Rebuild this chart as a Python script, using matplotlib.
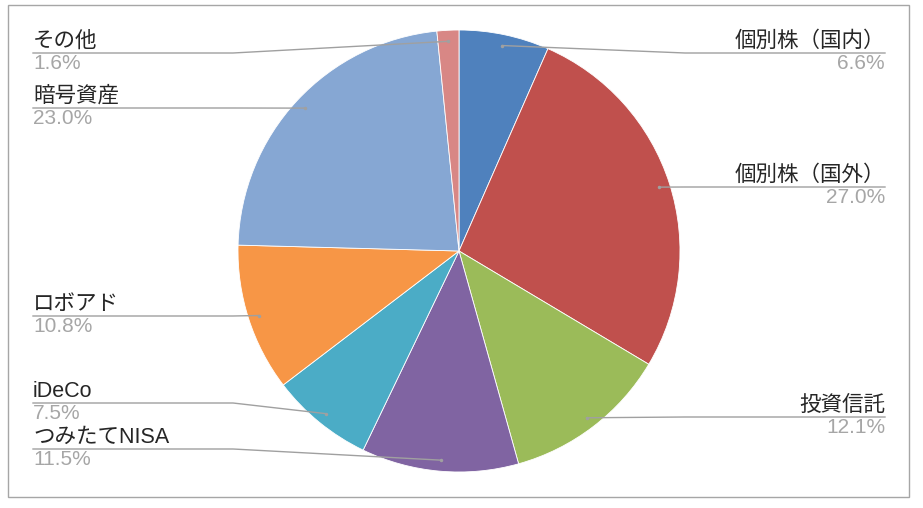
import numpy as np
import matplotlib
matplotlib.use("Agg")
import matplotlib.pyplot as plt
from matplotlib.patches import Rectangle

# ---- data ----
categories = ["個別株（国内）", "個別株（国外）", "投資信託", "つみたてNISA",
              "iDeCo", "ロボアド", "暗号資産", "その他"]
values = [6.6, 27.0, 12.1, 11.5, 7.5, 10.8, 23.0, 1.6]
pct_labels = ["6.6%", "27.0%", "12.1%", "11.5%", "7.5%", "10.8%", "23.0%", "1.6%"]

colors = ["#4F81BD", "#C0504D", "#9BBB59", "#8064A2",
          "#4BACC6", "#F79646", "#86A7D3", "#D88785"]

# ---- layout (pixel space, image y downward) ----
W, H = 923, 508
CX, CY_IMG, R = 459, 251, 221
label_side = ["R", "R", "R", "L", "L", "L", "L", "L"]
label_line_y = [53, 187, 417, 449, 403, 316, 108, 53]
LEFT_X0, LEFT_ELBOW = 33, 233
RIGHT_X1, RIGHT_ELBOW = 885, 685

def Y(y):
    return H - y

fig = plt.figure(figsize=(W / 100, H / 100), dpi=100)
ax = fig.add_axes([0, 0, 1, 1])

ax.pie(values, colors=colors, startangle=90, counterclock=False,
       center=(CX, Y(CY_IMG)), radius=R, frame=True,
       wedgeprops=dict(edgecolor="white", linewidth=0.6))

ax.set_xlim(0, W)
ax.set_ylim(0, H)
ax.set_aspect("auto")
ax.axis("off")

# outer frame
ax.add_patch(Rectangle((8, Y(497)), 901, 492, fill=False,
                       edgecolor="#A6A6A6", linewidth=1.0))

fam = ["Liberation Sans", "Noto Sans CJK JP"]
line_col = "#A0A0A0"
total = sum(values)
cum = 0.0
for cat, v, pct, side, ly in zip(categories, values, pct_labels, label_side, label_line_y):
    mid = (cum + v / 2) / total * 2 * np.pi
    cum += v
    ax_x = CX + 0.95 * R * np.sin(mid)
    ax_y = Y(CY_IMG) + 0.95 * R * np.cos(mid)
    if side == "L":
        xs = [ax_x, LEFT_ELBOW, LEFT_X0]
        tx, ha = LEFT_X0, "left"
    else:
        xs = [ax_x, RIGHT_ELBOW, RIGHT_X1]
        tx, ha = RIGHT_X1, "right"
    ax.plot(xs, [ax_y, Y(ly), Y(ly)], color=line_col, lw=1.0, zorder=3)
    ax.plot([ax_x], [ax_y], "o", ms=2.5, color=line_col, mec="none", zorder=4)
    ax.text(tx, Y(ly) + 1, cat, ha=ha, va="bottom", fontsize=15.5,
            family=fam, color="#262626")
    ax.text(tx, Y(ly) - 1, pct, ha=ha, va="top", fontsize=15,
            family=fam, color="#A6A6A6")

fig.savefig("out.png", dpi=100)
